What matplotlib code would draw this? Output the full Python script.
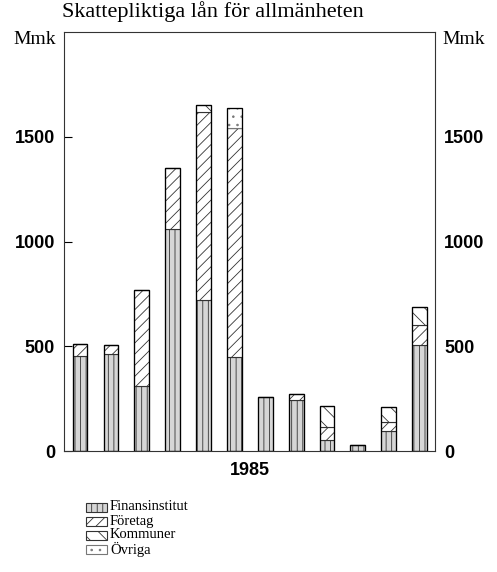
import matplotlib
matplotlib.use("Agg")
import matplotlib.pyplot as plt
from matplotlib.patches import Rectangle
import numpy as np

# Monthly taxable loans to the public, 1985 (Mmk).
months = ["jan", "feb", "mar", "apr", "maj", "jun",
          "jul", "aug", "sep", "okt", "nov", "dec"]
finansinstitut = [455, 462, 310, 1062, 720, 448, 257, 243, 52, 27, 97, 505]
foretag = [55, 43, 460, 290, 900, 1092, 0, 28, 62, 0, 43, 95]
kommuner = [0, 0, 0, 0, 30, 0, 0, 0, 100, 0, 71, 86]
ovriga = [0, 0, 0, 0, 0, 95, 0, 0, 0, 0, 0, 0]

series_labels = ["Finansinstitut", "Företag", "Kommuner", "Övriga"]
yticks = [0, 500, 1000, 1500]
year_label = "1985"
title = "Skattepliktiga lån för allmänheten"
unit = "Mmk"

SERIF = "Liberation Serif"
SANS = "Liberation Sans"

plt.rcParams["hatch.linewidth"] = 0.6

fig = plt.figure(figsize=(4.97, 5.72), dpi=100)
ax = fig.add_axes([64 / 497, 1 - 451 / 572, 371 / 497, 419 / 572])

x = np.arange(1, len(months) + 1)
styles = [
    dict(facecolor="#d6d6d6", hatch="|||", edgecolor="#333333"),
    dict(facecolor="white", hatch="///", edgecolor="#333333"),
    dict(facecolor="white", hatch="\\\\", edgecolor="#333333"),
    dict(facecolor="white", hatch="..", edgecolor="#777777"),
]
bottom = np.zeros(len(months))
for values, label, style in zip([finansinstitut, foretag, kommuner, ovriga],
                                series_labels, styles):
    values = np.array(values, dtype=float)
    ax.bar(x, values, width=0.48, bottom=bottom, linewidth=0.8,
           label=label, **style)
    bottom += values
# black outline round each whole bar, over the hatching
ax.bar(x, bottom, width=0.48, facecolor="none", edgecolor="black", linewidth=0.9)

ax.set_xlim(0.48, 12.5)
ax.set_ylim(0, 2000)
ax.set_xticks([])
ax.set_yticks(yticks)
ax.tick_params(axis="y", direction="in", length=6, width=0.8, pad=6.5,
               labelright=True, labelsize=13)
for tick in ax.yaxis.get_major_ticks():
    tick.tick2line.set_visible(False)
    for lbl in (tick.label1, tick.label2):
        lbl.set_fontfamily(SANS)
        lbl.set_fontweight("bold")
for spine in ax.spines.values():
    spine.set_linewidth(0.8)
    spine.set_color("#333333")

ax.set_xlabel(year_label, fontfamily=SANS, fontweight="bold", fontsize=13,
              labelpad=8)

fig.text(62 / 497, 1 - 12 / 572, title, fontfamily=SERIF, fontsize=16,
         ha="left", va="center")
fig.text(56 / 497, 1 - 40 / 572, unit, fontfamily=SERIF, fontsize=14,
         ha="right", va="center")
fig.text(442 / 497, 1 - 40 / 572, unit, fontfamily=SERIF, fontsize=14,
         ha="left", va="center")

# legend below the chart, as swatches with labels
for i, (label, style) in enumerate(zip(series_labels, styles)):
    yc = 507 + 14 * i
    fig.patches.append(Rectangle((86 / 497, 1 - (yc + 4.5) / 572), 21 / 497,
                                 9 / 572, transform=fig.transFigure,
                                 linewidth=0.8, **style))
    fig.text(110 / 497, 1 - yc / 572, label, fontfamily=SERIF, fontsize=10.5,
             ha="left", va="center")

fig.savefig("out.png", dpi=100)
